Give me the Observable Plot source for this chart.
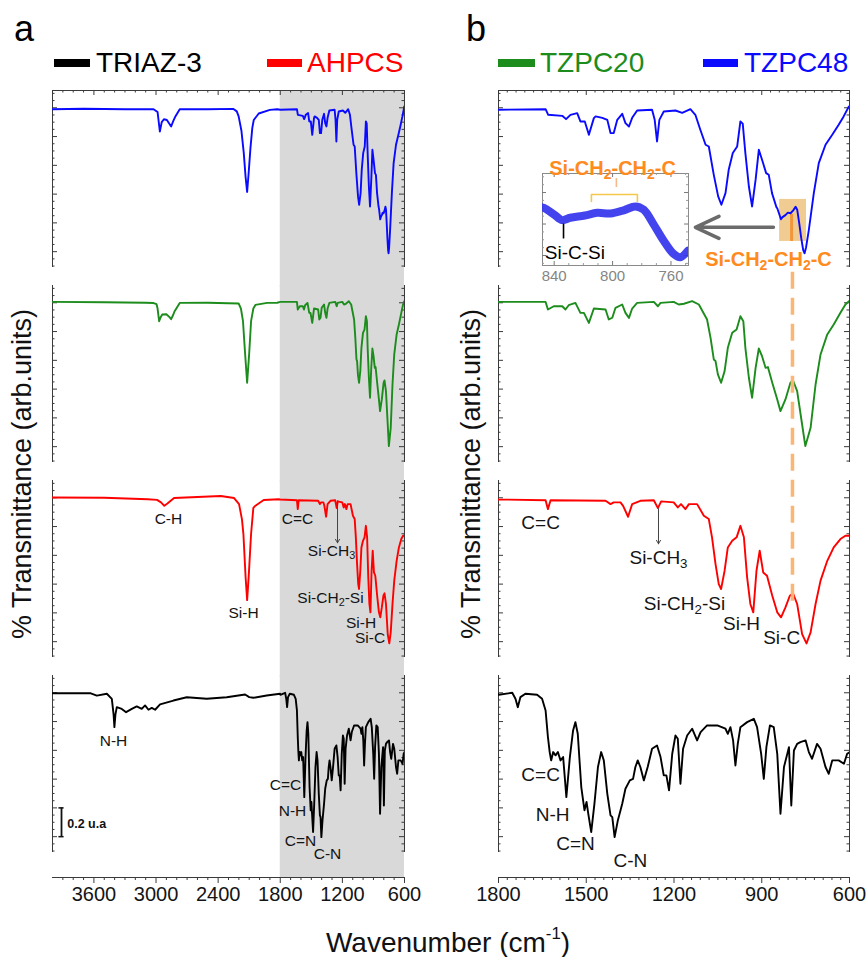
<!DOCTYPE html>
<html><head><meta charset="utf-8">
<script src="https://cdn.jsdelivr.net/npm/d3@7"></script>
<script src="https://cdn.jsdelivr.net/npm/@observablehq/plot@0.6"></script>
<style>
body{margin:0;background:#fff;font-family:"Liberation Sans",Arial,sans-serif;}
#fig{position:relative;width:867px;height:957px;overflow:hidden;background:#fff;}
.abs{position:absolute;white-space:nowrap;line-height:1;}
svg{overflow:visible}
</style></head><body><div id="fig"></div>
<script>
// ---------- data ----------
const samples = ["TZPC48", "TZPC20", "AHPCS", "TRIAZ-3"];
const colors = ["#0a0aff", "#1c8c1c", "#ff0000", "#000000"];

// [wavenumber (cm-1), transmittance (arb. units, offset per frame)]
const tzpc48 = [[4000,0.99],[3700,0.993],[3300,0.99],[3024,0.99],[2985,0.97],[2963,0.835],[2945,0.9],[2924,0.92],[2895,0.915],[2854,0.87],[2835,0.905],[2813,0.94],[2771,0.99],[2500,0.99],[2252,0.992],[2220,0.975],[2202,0.94],[2175,0.84],[2153,0.69],[2135,0.52],[2120,0.415],[2105,0.55],[2088,0.72],[2070,0.86],[2056,0.915],[2008,0.96],[1900,0.985],[1830,0.99],
[1799,0.986],[1639,0.99],[1630,0.951],[1582,0.944],[1569,0.921],[1554,0.951],[1531,0.963],[1520,0.905],[1505,0.905],[1491,0.812],[1474,0.928],[1468,0.94],[1445,0.93],[1428,0.916],[1417,0.824],[1406,0.824],[1394,0.916],[1377,0.958],[1366,0.893],[1354,0.87],[1343,0.93],[1326,0.981],[1275,0.986],[1266,0.916],[1258,0.766],[1250,0.916],[1235,0.974],[1195,0.981],[1172,0.965],[1144,0.99],[1127,0.951],[1110,0.847],[1092,0.743],[1081,0.731],[1064,0.534],[1049,0.384],[1038,0.326],[1024,0.407],[1013,0.569],[999,0.685],[984,0.731],[973,0.905],[965,0.89],[956,0.685],[944,0.453],[933,0.314],[921,0.5],[910,0.708],[899,0.639],[885,0.546],[876,0.534],[865,0.407],[850,0.31],[847,0.302],[840,0.26],[834.5,0.225],[829,0.24],[819,0.254],[810.6,0.271],[801.5,0.267],[792.4,0.287],[784.4,0.312],[778.7,0.291],[771.9,0.198],[765,0.094],[758.2,0.01],[753.6,-0.011],[748.4,0.031],[739,0.152],[722,0.407],[705,0.615],[682,0.743],[659,0.812],[637,0.882],[620,0.94],[602,1.009],[600,1.0]];

const tzpc20 = [[4000,1.006],[3500,1.004],[3100,1.0],[3024,0.998],[2995,0.99],[2985,0.96],[2970,0.872],[2955,0.9],[2940,0.918],[2900,0.92],[2870,0.9],[2854,0.886],[2835,0.915],[2822,0.939],[2771,0.999],[2500,1.0],[2202,0.995],[2180,0.96],[2160,0.872],[2140,0.65],[2120,0.444],[2100,0.65],[2082,0.872],[2060,0.96],[2040,0.985],[1927,0.999],[1830,1.0],
[1799,1.006],[1639,1.006],[1631,0.953],[1611,0.976],[1582,0.976],[1571,0.953],[1560,0.983],[1537,0.999],[1520,0.93],[1508,0.93],[1491,0.86],[1474,0.96],[1434,0.953],[1423,0.884],[1411,0.896],[1400,0.965],[1377,0.988],[1366,0.93],[1354,0.895],[1343,0.96],[1326,0.999],[1269,1.006],[1255,0.976],[1246,0.999],[1201,1.006],[1184,0.988],[1166,0.993],[1138,1.011],[1115,0.988],[1087,0.884],[1075,0.756],[1064,0.606],[1058,0.595],[1050,0.502],[1039,0.444],[1027,0.525],[1016,0.687],[1001,0.791],[986,0.814],[973,0.907],[963,0.872],[956,0.687],[944,0.479],[933,0.34],[921,0.548],[910,0.682],[899,0.629],[887,0.548],[879,0.553],[864,0.444],[847,0.328],[836,0.247],[819,0.328],[802,0.444],[793,0.46],[779,0.386],[762,0.154],[751,0.004],[733,0.131],[716,0.432],[699,0.641],[676,0.78],[654,0.849],[631,0.93],[614,0.988],[602,1.011]];

const ahpcs = [[4000,1.002],[3500,1.0],[3081,0.99],[2990,0.985],[2952,0.968],[2920,0.944],[2890,0.96],[2826,0.998],[2375,1.012],[2246,0.998],[2198,0.956],[2170,0.85],[2156,0.748],[2135,0.45],[2120,0.289],[2105,0.45],[2082,0.748],[2060,0.93],[2040,0.945],[1960,0.984],[1815,0.99],
[1799,0.988],[1639,0.983],[1631,0.921],[1622,0.983],[1434,0.979],[1417,0.956],[1406,0.968],[1383,0.968],[1374,0.944],[1357,0.868],[1343,0.956],[1315,0.979],[1269,0.983],[1255,0.928],[1244,0.975],[1201,0.968],[1187,0.933],[1176,0.956],[1161,0.921],[1149,0.956],[1121,0.956],[1098,0.875],[1081,0.852],[1070,0.725],[1058,0.539],[1047,0.4],[1039,0.366],[1027,0.493],[1016,0.655],[1001,0.701],[986,0.725],[973,0.805],[961,0.725],[950,0.447],[939,0.262],[929,0.204],[918,0.493],[907,0.632],[895,0.481],[882,0.458],[864,0.319],[847,0.204],[834,0.169],[819,0.238],[804,0.319],[793,0.336],[779,0.262],[762,0.053],[747,-0.012],[733,0.065],[716,0.262],[699,0.424],[676,0.562],[654,0.655],[631,0.713],[614,0.736],[602,0.736],[600,0.74]];

const triaz3 = [[4000,0.997],[3636,0.997],[3572,0.98],[3475,0.993],[3427,0.958],[3410,0.85],[3402,0.761],[3392,0.85],[3379,0.9],[3331,0.888],[3289,0.865],[3234,0.888],[3186,0.905],[3138,0.888],[3106,0.912],[3073,0.882],[3041,0.895],[3009,0.882],[2961,0.919],[2832,0.946],[2703,0.969],[2510,0.958],[2317,0.969],[2140,0.988],[2100,0.97],[2060,0.965],[1931,0.981],[1802,0.993],
[1799,0.986],[1753,1.0],[1742,0.958],[1734,0.9],[1725,0.97],[1708,0.993],[1668,0.986],[1651,0.958],[1639,0.877],[1631,0.692],[1625,0.588],[1620,0.53],[1613,0.588],[1605,0.565],[1597,0.588],[1588,0.53],[1579,0.553],[1568,0.275],[1556,0.553],[1545,0.738],[1537,0.796],[1529,0.715],[1517,0.345],[1506,0.183],[1499,0.241],[1493,0.159],[1483,0.032],[1472,0.229],[1460,0.484],[1449,0.588],[1440,0.53],[1428,0.298],[1417,0.148],[1411,0.136],[1403,-0.003],[1392,0.113],[1377,0.229],[1366,0.333],[1351,0.391],[1340,0.402],[1332,0.484],[1324,0.53],[1315,0.484],[1303,0.391],[1290,0.484],[1275,0.611],[1258,0.634],[1246,0.553],[1235,0.426],[1226,0.426],[1217,0.322],[1206,0.576],[1195,0.703],[1187,0.68],[1178,0.368],[1169,0.611],[1155,0.703],[1138,0.75],[1121,0.669],[1109,0.727],[1087,0.773],[1052,0.773],[1024,0.75],[1016,0.715],[1007,0.761],[998,0.669],[990,0.495],[982,0.645],[973,0.761],[950,0.796],[927,0.819],[916,0.761],[902,0.576],[893,0.402],[884,0.624],[872,0.773],[859,0.761],[847,0.576],[836,0.159],[824,0.484],[807,0.622],[799,0.217],[790,0.599],[779,0.645],[768,0.657],[750,0.669],[739,0.588],[728,0.541],[711,0.645],[699,0.611],[682,0.484],[671,0.437],[659,0.53],[637,0.53],[619,0.507],[608,0.576],[599,0.588]];

const ticksA = [3600, 3000, 2400, 1800, 1200, 600];
const ticksB = [1800, 1500, 1200, 900, 600];
const insetTicks = [840, 800, 760];

const annA = [
  {s:"AHPCS", w:2880, v:0.854, t:"C-H"},
  {s:"AHPCS", w:2155, v:0.201, t:"Si-H"},
  {s:"AHPCS", w:1633, v:0.854, t:"C=C"},
  {s:"AHPCS", w:1305, v:0.632, t:"Si-CH₃"},
  {s:"AHPCS", w:1315, v:0.305, t:"Si-CH₂-Si"},
  {s:"AHPCS", w:1020, v:0.131, t:"Si-H"},
  {s:"AHPCS", w:933, v:0.028, t:"Si-C"},
  {s:"TRIAZ-3", w:3411, v:0.662, t:"N-H"},
  {s:"TRIAZ-3", w:1749, v:0.356, t:"C=C"},
  {s:"TRIAZ-3", w:1682, v:0.176, t:"N-H"},
  {s:"TRIAZ-3", w:1605, v:-0.033, t:"C=N"},
  {s:"TRIAZ-3", w:1344, v:-0.123, t:"C-N"}
];
const annB = [
  {s:"AHPCS", w:1656, v:0.826, t:"C=C"},
  {s:"AHPCS", w:1253, v:0.583, t:"Si-CH₃"},
  {s:"AHPCS", w:1164, v:0.264, t:"Si-CH₂-Si"},
  {s:"AHPCS", w:969, v:0.125, t:"Si-H"},
  {s:"AHPCS", w:832, v:0.028, t:"Si-C"},
  {s:"TRIAZ-3", w:1656, v:0.426, t:"C=C"},
  {s:"TRIAZ-3", w:1615, v:0.148, t:"N-H"},
  {s:"TRIAZ-3", w:1537, v:-0.047, t:"C=N"},
  {s:"TRIAZ-3", w:1349, v:-0.165, t:"C-N"}
];
const arrowsA = [{s:"AHPCS", w:1247, v1:0.979, v2:0.687}];
const arrowsB = [{s:"AHPCS", w:1253, v1:0.923, v2:0.68}];

// ---------- build ----------
const spectra = {"TZPC48": tzpc48, "TZPC20": tzpc20, "AHPCS": ahpcs, "TRIAZ-3": triaz3};
const rows = samples.flatMap(s => spectra[s].map(([w, v]) => ({s, w, v})));
const FONT = '"Liberation Sans", Arial, sans-serif';
const frameC = "#3a3a3a";
const textC = "#141414";
const orange = "#ff8a1e";

function panel(cfg) {
  const {xDomain, width, mL, mR, majorX, minorStep, fontSize, ann, arrows, before = [], extra = []} = cfg;
  const H = 910, mT = 89, mB = 58, p = 0.094;
  const yDom = [-0.11, 1.12];
  const step = (H - mT - mB) / (4 - p), bw = step * (1 - p), ky = bw / (yDom[1] - yDom[0]);
  const fw = width - mL - mR;
  const yAx = yDom[0] - 25 / ky;
  const top = samples[0], bottom = samples[3];
  const lo = Math.min(...xDomain), hi = Math.max(...xDomain);
  const minorX = d3.range(lo, hi + 1, minorStep).filter(w => !majorX.includes(w) && w > lo && w < hi);
  const yMaj = [0, 0.2, 0.4, 0.6, 0.8, 1.0];
  const yMin = d3.range(-2, 23).filter(i => i % 4 !== 0).map(i => i * 0.05);
  const at = (s, arr) => arr.map(w => ({s, w}));
  const ctx = {yDom, ky, step, bw, yAx, fw, bottom, top};
  const marks = [
    ...(typeof before === "function" ? before(ctx) : before),
    Plot.ruleX(xDomain, {stroke: frameC, strokeWidth: 1}),
    Plot.ruleY([{s: top}], {fy: "s", y: yDom[1], x1: xDomain[0], x2: xDomain[1], stroke: frameC}),
    Plot.tickY(yMaj, {y: d => d, insetRight: fw - 5, stroke: frameC}),
    Plot.tickY(yMaj, {y: d => d, insetLeft: fw - 5, stroke: frameC}),
    Plot.tickY(yMin, {y: d => d, insetRight: fw - 2.5, stroke: frameC}),
    Plot.tickY(yMin, {y: d => d, insetLeft: fw - 2.5, stroke: frameC}),
    Plot.ruleX(at(top, majorX), {fy: "s", x: "w", y1: yDom[1], y2: yDom[1] - 5 / ky, stroke: frameC}),
    Plot.ruleX(at(top, minorX), {fy: "s", x: "w", y1: yDom[1], y2: yDom[1] - 2.5 / ky, stroke: frameC}),
    Plot.ruleY([{s: bottom}], {fy: "s", y: yAx, x1: xDomain[0], x2: xDomain[1], stroke: frameC}),
    Plot.ruleX(at(bottom, majorX), {fy: "s", x: "w", y1: yAx, y2: yAx - 6 / ky, stroke: frameC}),
    Plot.ruleX(at(bottom, minorX), {fy: "s", x: "w", y1: yAx, y2: yAx - 3 / ky, stroke: frameC}),
    Plot.text(at(bottom, majorX), {fy: "s", x: "w", y: yAx - 17 / ky, text: d => String(d.w), fontSize: 20, fill: textC}),
    Plot.line(rows, {x: "w", y: "v", fy: "s", stroke: "s", strokeWidth: 1.9, clip: true}),
    ...(typeof extra === "function" ? extra(ctx) : extra),
    Plot.arrow(arrows, {fy: "s", x1: "w", x2: "w", y1: "v1", y2: "v2", stroke: "#444", strokeWidth: 1, headLength: 6}),
    Plot.text(ann, {fy: "s", x: "w", y: "v", text: "t", fontSize, fill: textC})
  ];
  return Plot.plot({
    width, height: H, marginTop: mT, marginBottom: mB, marginLeft: mL, marginRight: mR,
    x: {domain: xDomain, axis: null},
    y: {domain: yDom, axis: null},
    fy: {domain: samples, axis: null, paddingInner: p, paddingOuter: 0},
    color: {domain: samples, range: colors},
    style: {fontFamily: FONT, background: "transparent", overflow: "visible"},
    marks
  });
}

const svgA = panel({
  xDomain: [4000, 600], width: 430, mL: 52, mR: 26, majorX: ticksA, minorStep: 100, fontSize: 15.5,
  ann: annA, arrows: arrowsA,
  before: ({yDom, step, bw, ky, yAx, bottom}) => [
    Plot.rect(samples.map(s => ({s, y1: s === bottom ? yAx : yDom[0] - (step - bw) / ky - 0.01})),
      {fy: "s", x1: 1800, x2: 600, y1: "y1", y2: yDom[1], fill: "#d9d9d9"})
  ],
  extra: () => [
    Plot.ruleX([{s: "TRIAZ-3"}], {fy: "s", x: 3913, y1: 0, y2: 0.2, stroke: "#111", strokeWidth: 1.8}),
    Plot.ruleY([{s: "TRIAZ-3", v: 0}, {s: "TRIAZ-3", v: 0.2}], {fy: "s", y: "v", x1: 3938, x2: 3888, stroke: "#111", strokeWidth: 1.5}),
    Plot.text([{s: "TRIAZ-3"}], {fy: "s", x: 3858, y: 0.085, text: () => "0.2 u.a", textAnchor: "start", fontSize: 12.5, fontWeight: "bold", fill: "#111"})
  ]
});

const svgB = panel({
  xDomain: [1800, 600], width: 427, mL: 58, mR: 18, majorX: ticksB, minorStep: 30, fontSize: 19,
  ann: annB, arrows: arrowsB,
  before: () => [
    Plot.rect([{s: "TZPC48"}], {fy: "s", x1: 839, x2: 747, y1: 0.071, y2: 0.363, fill: "#efc37f", fillOpacity: 0.85}),
    Plot.ruleX([{s: "TZPC48"}], {fy: "s", x: 798, y1: 0.071, y2: 0.259, stroke: "#f2963a", strokeWidth: 3})
  ],
  extra: () => [
    Plot.ruleX([{s: "TZPC20"}], {fy: "s", x: 795, y1: -1.074, y2: 1.212, stroke: "#fbb574", strokeWidth: 3.5, strokeDasharray: "17,9"}),
    Plot.arrow([{s: "TZPC48"}], {fy: "s", x1: 860, x2: 1127, y1: 0.169, y2: 0.169, stroke: "#6b6b6b", strokeWidth: 3.5, headLength: 14, headAngle: 50}),
    Plot.text([{s: "TZPC48"}], {fy: "s", x: 877, y: -0.054, text: () => "Si-CH₂-CH₂-C", fontSize: 20, fontWeight: "bold", fill: orange})
  ]
});

// inset (zoom of TZPC48 between 848 and 748 cm-1)
const insetRows = tzpc48.filter(([w]) => w <= 852 && w >= 744).map(([w, v]) => ({w, v}));
const bracket = [{w:814.5, v:0.343}, {w:814.5, v:0.388}, {w:783, v:0.388}, {w:783, v:0.343}];
const iW = 146, iH = 92;
const inset = Plot.plot({
  width: iW + 8, height: iH + 52, marginTop: 28, marginBottom: 24, marginLeft: 4, marginRight: 4,
  x: {domain: [848, 748], axis: null},
  y: {domain: [-0.0635, 0.521], axis: null},
  style: {fontFamily: FONT, background: "transparent", overflow: "visible"},
  marks: [
    Plot.frame({fill: "white", stroke: "#8a8a8a"}),
    Plot.tickY([0, 0.2, 0.4], {y: d => d, insetRight: iW - 4, stroke: "#777"}),
    Plot.tickY([0, 0.2, 0.4], {y: d => d, insetLeft: iW - 4, stroke: "#777"}),
    Plot.tickY([-0.05, 0.05, 0.1, 0.15, 0.25, 0.3, 0.35, 0.45, 0.5], {y: d => d, insetRight: iW - 2, stroke: "#999"}),
    Plot.tickY([-0.05, 0.05, 0.1, 0.15, 0.25, 0.3, 0.35, 0.45, 0.5], {y: d => d, insetLeft: iW - 2, stroke: "#999"}),
    Plot.tickX(insetTicks, {x: d => d, insetBottom: iH - 4, stroke: "#777"}),
    Plot.tickX(insetTicks, {x: d => d, insetTop: iH - 4, stroke: "#777"}),
    Plot.tickX([830, 820, 810, 790, 780, 770, 750], {x: d => d, insetBottom: iH - 2, stroke: "#999"}),
    Plot.tickX([830, 820, 810, 790, 780, 770, 750], {x: d => d, insetTop: iH - 2, stroke: "#999"}),
    Plot.line(insetRows, {x: "w", y: "v", stroke: "#3434ee", strokeWidth: 8, strokeOpacity: 0.92, curve: "catmull-rom", clip: true}),
    Plot.ruleX([833.6], {y1: 0.105, y2: 0.2, stroke: "#000", strokeWidth: 1.6}),
    Plot.text([{w: 825.8, v: 0.019, t: "Si-C-Si"}], {x: "w", y: "v", text: "t", fontSize: 19, fill: "#000"}),
    Plot.line(bracket, {x: "w", y: "v", stroke: "#f4c84a", strokeWidth: 1.6}),
    Plot.ruleX([797.4], {y1: 0.432, y2: 0.489, stroke: "#f7b98c", strokeWidth: 1.6}),
    Plot.text([{w: 800, v: 0.553, t: "Si-CH₂-CH₂-C"}], {x: "w", y: "v", text: "t", fontSize: 20, fontWeight: "bold", fill: orange}),
    Plot.axisX(insetTicks, {tickSize: 0, tickPadding: 5, fill: "#858585", fontSize: 15, label: null})
  ]
});

// subscript post-processing
function fixSubs(svg) {
  const ns = "http://www.w3.org/2000/svg";
  svg.querySelectorAll("text").forEach(t => {
    if (t.querySelector("tspan")) return;
    const s = t.textContent;
    if (!/[₂₃]/.test(s)) return;
    t.textContent = "";
    let prevSub = false;
    for (const part of s.split(/([₂₃]+)/).filter(x => x)) {
      const isSub = /[₂₃]/.test(part);
      const ts = document.createElementNS(ns, "tspan");
      ts.textContent = isSub ? part.replace(/₂/g, "2").replace(/₃/g, "3") : part;
      if (isSub) { ts.setAttribute("font-size", "70%"); ts.setAttribute("dy", "0.3em"); }
      else if (prevSub) { ts.setAttribute("dy", "-0.21em"); }
      t.appendChild(ts);
      prevSub = isSub;
    }
  });
}

const fig = document.getElementById("fig");
function place(el, left, top) {
  el.style.position = "absolute"; el.style.left = left + "px"; el.style.top = top + "px";
  fig.appendChild(el);
}
[svgA, svgB, inset].forEach(fixSubs);
place(svgA, 0, 0);
place(svgB, 440, 0);
place(inset, 538, 145);

function label(html, left, baseline, size, color, extra = "") {
  const d = document.createElement("div");
  d.className = "abs";
  d.innerHTML = html;
  d.style.cssText += `left:${left}px;top:${baseline - 0.85 * size}px;font-size:${size}px;color:${color};${extra}`;
  fig.appendChild(d);
}
function swatch(left, w, color) {
  const d = document.createElement("div");
  d.className = "abs";
  d.style.cssText += `left:${left}px;top:59px;width:${w}px;height:8px;background:${color};`;
  fig.appendChild(d);
}
label("a", 14, 42, 36, "#000");
label("b", 466, 42, 36, "#000");
swatch(54, 36, colors[3]); label("TRIAZ-3", 96, 73, 28, colors[3]);
swatch(267, 35, colors[2]); label("AHPCS", 307, 73, 28, colors[2]);
swatch(498, 37, colors[1]); label("TZPC20", 540, 73, 28, colors[1]);
swatch(703, 35, colors[0]); label("TZPC48", 744, 73, 28, colors[0]);

function centered(html, cx, cy, size, rotate) {
  const d = document.createElement("div");
  d.className = "abs";
  d.innerHTML = html;
  d.style.cssText += `left:${cx}px;top:${cy}px;font-size:${size}px;color:#111;transform:translate(-50%,-50%)${rotate ? " rotate(-90deg)" : ""};`;
  fig.appendChild(d);
}
centered("% Transmittance (arb.units)", 22, 474, 27, true);
centered("% Transmittance (arb.units)", 471, 474, 27, true);
centered('Wavenumber (cm<span style="font-size:0.6em;position:relative;top:-0.75em">-1</span>)', 448, 943, 28, false);
</script></body></html>
